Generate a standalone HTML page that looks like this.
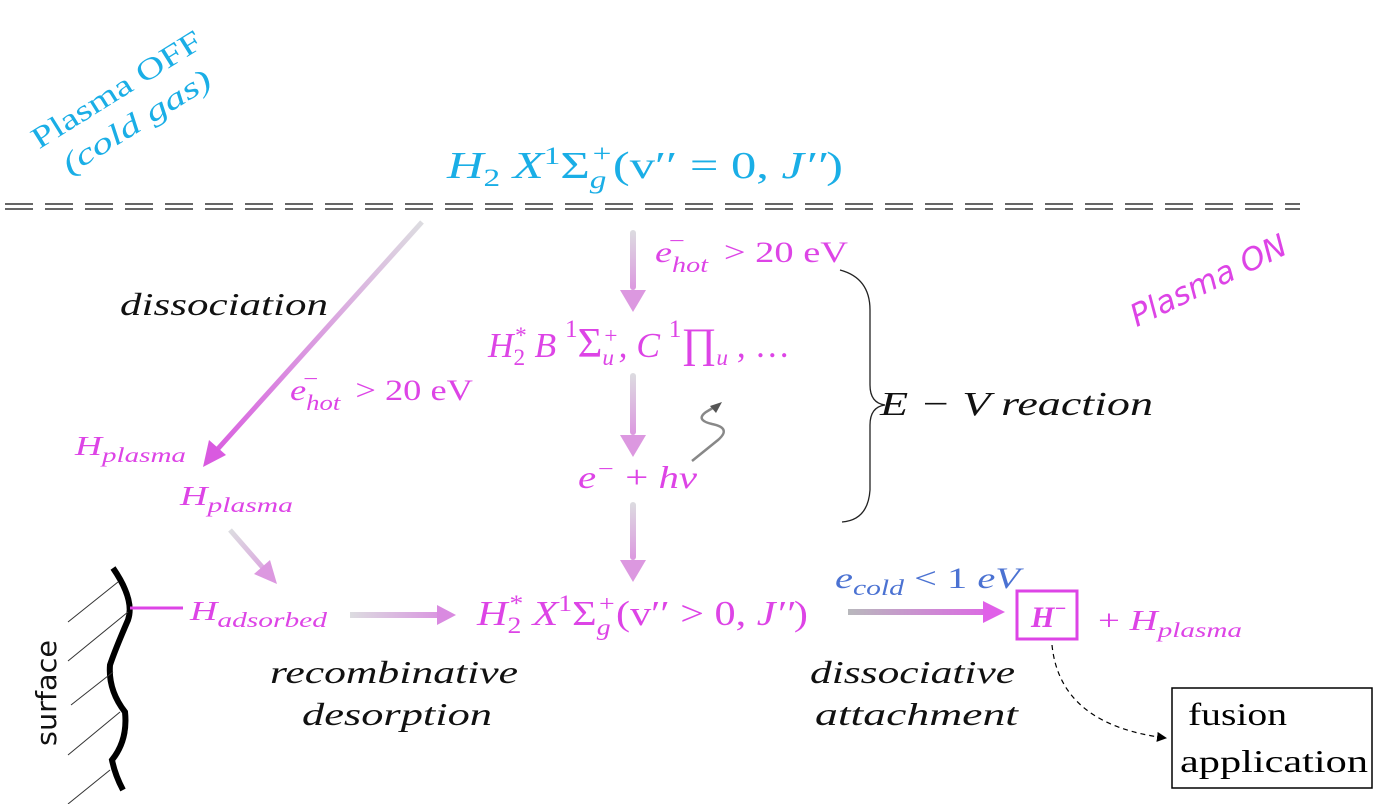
<!DOCTYPE html>
<html><head><meta charset="utf-8"><style>
html,body{margin:0;padding:0;background:#fff}
svg{display:block}
text{font-family:"Liberation Serif",serif}
.m{fill:#dd44e6;font-style:italic}
.k{fill:#111;font-style:italic}
</style></head><body>
<svg width="1386" height="804" viewBox="0 0 1386 804" xmlns="http://www.w3.org/2000/svg">
<defs>
<linearGradient id="gd" x1="422" y1="222" x2="205" y2="465" gradientUnits="userSpaceOnUse"><stop offset="0" stop-color="#dcdce0"/><stop offset="1" stop-color="#d95ae0"/></linearGradient>
<linearGradient id="gv" x1="0" y1="0" x2="0" y2="1"><stop offset="0" stop-color="#dcdce0"/><stop offset="1" stop-color="#dc98e0"/></linearGradient>
<linearGradient id="gh1" x1="350" y1="0" x2="455" y2="0" gradientUnits="userSpaceOnUse"><stop offset="0" stop-color="#dcdce0"/><stop offset="1" stop-color="#d98ae0"/></linearGradient>
<linearGradient id="gh2" x1="848" y1="0" x2="1005" y2="0" gradientUnits="userSpaceOnUse"><stop offset="0" stop-color="#b8b8bc"/><stop offset="1" stop-color="#e060e8"/></linearGradient>
<linearGradient id="gs" x1="230" y1="530" x2="275" y2="585" gradientUnits="userSpaceOnUse"><stop offset="0" stop-color="#dcdce0"/><stop offset="1" stop-color="#dc98e0"/></linearGradient>
<marker id="ah" markerWidth="10" markerHeight="10" refX="9" refY="5" orient="auto" markerUnits="userSpaceOnUse"><path d="M0,0 L10,5 L0,10 z" fill="#000"/></marker>
</defs>

<g transform="translate(128,108) rotate(-32)" fill="#1aaee6" style="font-family:'DejaVu Sans',sans-serif;font-size:30px" text-anchor="middle">
<text x="0" y="-12" textLength="195" lengthAdjust="spacingAndGlyphs">Plasma OFF</text>
<text x="0" y="26" font-style="italic" textLength="170" lengthAdjust="spacingAndGlyphs">(cold gas)</text>
</g>
<text x="447" y="178" fill="#1aaee6" font-size="38" font-style="italic" textLength="396" lengthAdjust="spacingAndGlyphs">H<tspan font-size="25" dy="8" font-style="normal">2</tspan><tspan dy="-8"> X</tspan><tspan font-size="25" dy="-14" font-style="normal">1</tspan><tspan dy="14" font-style="normal">Σ</tspan><tspan font-size="25" dy="10">g</tspan><tspan font-size="25" dy="-26" dx="-12">+</tspan><tspan dy="16" font-style="normal">(v′′ = 0, </tspan>J′′<tspan font-style="normal">)</tspan></text>

<g stroke="#333" stroke-width="1.6" stroke-dasharray="28,12">
<line x1="5" y1="204" x2="1300" y2="204"/><line x1="5" y1="209" x2="1300" y2="209"/>
</g>

<line x1="422" y1="222" x2="215" y2="452" stroke="url(#gd)" stroke-width="5"/>
<path d="M203,467 L209,440 L226,455 z" fill="#d95ae0"/>
<text x="120" y="315" class="k" font-size="32" textLength="208" lengthAdjust="spacingAndGlyphs">dissociation</text>
<text x="290" y="400" class="m" font-size="30" textLength="183" lengthAdjust="spacingAndGlyphs">e<tspan font-size="22" dy="10">hot</tspan><tspan font-size="22" dy="-24" dx="-32">−</tspan><tspan dy="14" dx="22" font-style="normal"> &gt; 20 eV</tspan></text>
<text x="75" y="455" class="m" font-size="27" textLength="111" lengthAdjust="spacingAndGlyphs">H<tspan font-size="21" dy="7">plasma</tspan></text>
<text x="180" y="505" class="m" font-size="27" textLength="113" lengthAdjust="spacingAndGlyphs">H<tspan font-size="21" dy="7">plasma</tspan></text>
<line x1="230" y1="530" x2="264" y2="569" stroke="url(#gs)" stroke-width="5"/>
<path d="M277,584 L254,574 L270,560 z" fill="#dc98e0"/>

<path d="M113,568 Q135,600 128,620 Q115,650 110,665 Q108,690 125,712 Q128,740 112,760 Q115,775 123,790" fill="none" stroke="#000" stroke-width="6"/>
<g stroke="#333" stroke-width="1">
<line x1="68" y1="622" x2="118" y2="582"/><line x1="68" y1="661" x2="128" y2="612"/><line x1="71" y1="705" x2="113" y2="672"/><line x1="68" y1="755" x2="120" y2="712"/><line x1="68" y1="804" x2="110" y2="770"/>
</g>
<text transform="translate(56,746) rotate(-90)" font-size="28" fill="#111" style="font-family:'DejaVu Sans',sans-serif" textLength="106" lengthAdjust="spacingAndGlyphs">surface</text>
<line x1="130" y1="608" x2="183" y2="608" stroke="#dd44e6" stroke-width="3"/>
<text x="190" y="620" class="m" font-size="27" textLength="137" lengthAdjust="spacingAndGlyphs">H<tspan font-size="21" dy="7">adsorbed</tspan></text>
<line x1="350" y1="615" x2="440" y2="615" stroke="url(#gh1)" stroke-width="6"/>
<path d="M456,615 L437,605 L437,625 z" fill="#d98ae0"/>
<text x="477" y="625" class="m" font-size="35" textLength="331" lengthAdjust="spacingAndGlyphs">H<tspan font-size="23" dy="8" font-style="normal">2</tspan><tspan font-size="23" dy="-22" dx="-11">*</tspan><tspan dy="14"> X</tspan><tspan font-size="23" dy="-14" font-style="normal">1</tspan><tspan dy="14" font-style="normal">Σ</tspan><tspan font-size="23" dy="10">g</tspan><tspan font-size="23" dy="-24" dx="-11">+</tspan><tspan dy="14" font-style="normal">(v′′ &gt; 0, </tspan>J′′<tspan font-style="normal">)</tspan></text>
<text x="270" y="683" class="k" font-size="32" textLength="248" lengthAdjust="spacingAndGlyphs">recombinative</text>
<text x="302" y="725" class="k" font-size="32" textLength="190" lengthAdjust="spacingAndGlyphs">desorption</text>

<rect x="630" y="230" width="6" height="60" fill="url(#gv)" rx="3"/><path d="M620,290 L646,290 L633,312 z" fill="#dc98e0"/>
<rect x="630" y="373" width="6" height="62" fill="url(#gv)" rx="3"/><path d="M620,435 L646,435 L633,457 z" fill="#dc98e0"/>
<rect x="630" y="502" width="6" height="58" fill="url(#gv)" rx="3"/><path d="M620,560 L646,560 L633,582 z" fill="#dc98e0"/>
<text x="655" y="262" class="m" font-size="30" textLength="193" lengthAdjust="spacingAndGlyphs">e<tspan font-size="22" dy="10">hot</tspan><tspan font-size="22" dy="-24" dx="-32">−</tspan><tspan dy="14" dx="22" font-style="normal"> &gt; 20 eV</tspan></text>
<text x="488" y="357" class="m" font-size="35" textLength="302" lengthAdjust="spacingAndGlyphs">H<tspan font-size="23" dy="8" font-style="normal">2</tspan><tspan font-size="23" dy="-22" dx="-11">*</tspan><tspan dy="14"> B </tspan><tspan font-size="25" dy="-20" font-style="normal">1</tspan><tspan dy="20" font-style="normal" font-size="42">Σ</tspan><tspan font-size="23" dy="8">u</tspan><tspan font-size="23" dy="-22" dx="-11">+</tspan><tspan dy="14">, C </tspan><tspan font-size="25" dy="-20" font-style="normal">1</tspan><tspan dy="20" font-style="normal" font-size="42">∏</tspan><tspan font-size="23" dy="8">u</tspan><tspan dy="-8" font-style="normal"> , …</tspan></text>
<text x="578" y="488" class="m" font-size="32" textLength="119" lengthAdjust="spacingAndGlyphs">e<tspan font-size="22" dy="-12">−</tspan><tspan dy="12" font-style="normal"> + </tspan>hν</text>
<path d="M692,461 L718,440 Q732,428 712,424 Q695,420 706,412 L716,406" fill="none" stroke="#888" stroke-width="2.5"/>
<path d="M722,402 L710,406 L716,413 z" fill="#555"/>

<path d="M840,270 Q870,278 870,310 L870,385 Q870,403 885,405 Q870,407 870,425 L870,490 Q868,520 842,522" fill="none" stroke="#222" stroke-width="1.3"/>
<text x="880" y="415" class="k" font-size="34" textLength="273" lengthAdjust="spacingAndGlyphs">E − V reaction</text>
<text transform="translate(1213,290) rotate(-26)" text-anchor="middle" fill="#dd44e6" font-size="31" style="font-family:'DejaVu Sans',sans-serif;font-style:italic" textLength="170" lengthAdjust="spacingAndGlyphs">Plasma ON</text>

<text x="835" y="588" fill="#4b72d2" font-size="30" font-style="italic" textLength="185" lengthAdjust="spacingAndGlyphs">e<tspan font-size="22" dy="7">cold</tspan><tspan dy="-7" font-style="normal"> &lt; 1 </tspan>eV</text>
<line x1="848" y1="612" x2="985" y2="612" stroke="url(#gh2)" stroke-width="6"/>
<path d="M1005,612 L983,601 L983,623 z" fill="#e060e8"/>
<text x="810" y="683" class="k" font-size="32" textLength="205" lengthAdjust="spacingAndGlyphs">dissociative</text>
<text x="815" y="725" class="k" font-size="32" textLength="203" lengthAdjust="spacingAndGlyphs">attachment</text>
<rect x="1017" y="591" width="60" height="48" fill="none" stroke="#dd44e6" stroke-width="3"/>
<text x="1031" y="627" fill="#dd44e6" font-size="30" font-weight="bold" font-style="italic">H<tspan font-size="20" dy="-12">−</tspan></text>
<text x="1098" y="630" class="m" font-size="28" textLength="144" lengthAdjust="spacingAndGlyphs"><tspan font-style="normal">+ </tspan>H<tspan font-size="21" dy="7">plasma</tspan></text>
<path d="M1052,645 Q1060,725 1166,738" fill="none" stroke="#000" stroke-width="1.2" stroke-dasharray="5,4" marker-end="url(#ah)"/>
<rect x="1172" y="688" width="200" height="100" fill="#fff" stroke="#000" stroke-width="1.5"/>
<text x="1188" y="725" font-size="32" fill="#000" textLength="99" lengthAdjust="spacingAndGlyphs">fusion</text>
<text x="1180" y="772" font-size="32" fill="#000" textLength="188" lengthAdjust="spacingAndGlyphs">application</text>
</svg>
</body></html>
